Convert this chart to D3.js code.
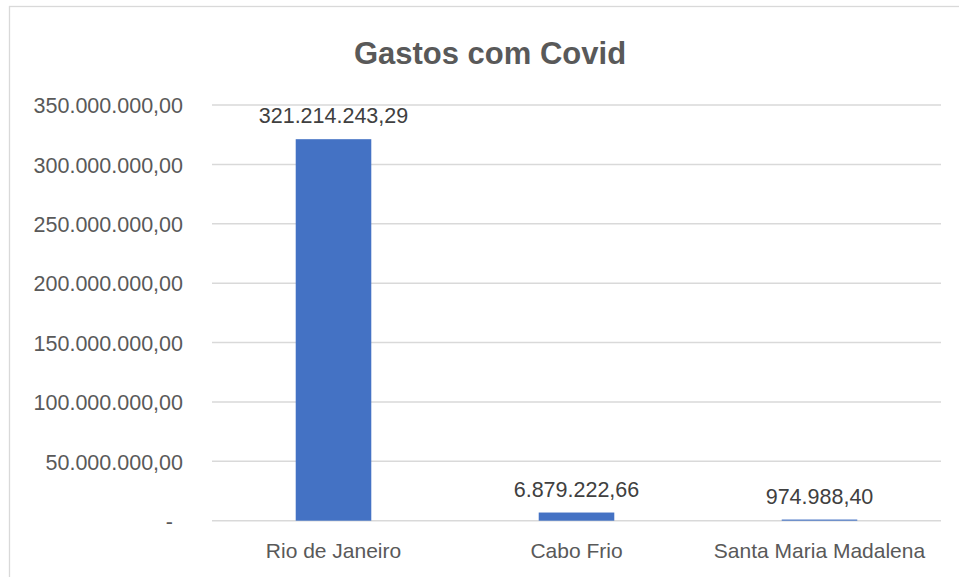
<!DOCTYPE html>
<html><head><meta charset="utf-8">
<script src="https://cdn.jsdelivr.net/npm/d3@7"></script>
<style>body{margin:0;background:#fff}svg{display:block}</style>
</head><body>
<svg id="c" width="959" height="577"></svg>
<script>
const categories = ["Rio de Janeiro", "Cabo Frio", "Santa Maria Madalena"];
const values = [321214243.29, 6879222.66, 974988.40];
const valueLabels = ["321.214.243,29", "6.879.222,66", "974.988,40"];
const yTicks = [0, 50000000, 100000000, 150000000, 200000000, 250000000, 300000000, 350000000];
const title = "Gastos com Covid";

const svg = d3.select("#c");
const font = "'Liberation Sans', Arial, sans-serif";
const m = {left: 212, right: 941, top: 105, bottom: 520.7};

svg.append("rect").attr("x", 9.5).attr("y", 6.5).attr("width", 970).attr("height", 600)
  .attr("fill", "#fff").attr("stroke", "#d9d9d9").attr("stroke-width", 1.3);

const x = d3.scaleBand().domain(categories).range([m.left, m.right]).paddingInner(0.689).paddingOuter(0.3445);
const y = d3.scaleLinear().domain([0, 350000000]).range([m.bottom, m.top]);

const fmt = v => v === 0 ? "-" : d3.formatLocale({decimal: ",", thousands: ".", grouping: [3], currency: ["", ""]}).format(",.2f")(v);

// gridlines
svg.append("g").selectAll("line").data(yTicks).join("line")
  .attr("x1", m.left).attr("x2", m.right)
  .attr("y1", d => y(d)).attr("y2", d => y(d))
  .attr("stroke", "#d9d9d9").attr("stroke-width", 1.5);

// y axis labels
const yAxis = svg.append("g").attr("transform", `translate(${183},0)`)
  .call(d3.axisLeft(y).tickValues(yTicks).tickFormat(fmt).tickSize(0).tickPadding(0));
yAxis.select(".domain").remove();
yAxis.selectAll("text").attr("font-family", font).attr("font-size", 21.5).attr("fill", "#595959")
  .attr("dy", "0.36em")
  .attr("x", d => d === 0 ? -10 : 0);

// bars
svg.append("g").selectAll("rect").data(values).join("rect")
  .attr("x", (d, i) => x(categories[i]))
  .attr("width", x.bandwidth())
  .attr("y", d => y(d))
  .attr("height", d => y(0) - y(d))
  .attr("fill", "#4472C4");

// data labels
svg.append("g").selectAll("text").data(values).join("text")
  .attr("x", (d, i) => x(categories[i]) + x.bandwidth() / 2)
  .attr("y", d => y(d) - 16)
  .attr("text-anchor", "middle")
  .attr("font-family", font).attr("font-size", 21.5).attr("fill", "#404040")
  .text((d, i) => valueLabels[i]);

// x axis labels
const xAxis = svg.append("g").attr("transform", `translate(0,${m.bottom})`)
  .call(d3.axisBottom(x).tickSize(0).tickPadding(0));
xAxis.select(".domain").remove();
xAxis.selectAll("text").attr("font-family", font).attr("font-size", 21).attr("fill", "#595959")
  .attr("dy", null).attr("y", 37.5);

// title
svg.append("text").attr("x", 490).attr("y", 64).attr("text-anchor", "middle")
  .attr("font-family", font).attr("font-size", 31).attr("font-weight", "bold").attr("fill", "#595959")
  .text(title);
</script>
</body></html>
